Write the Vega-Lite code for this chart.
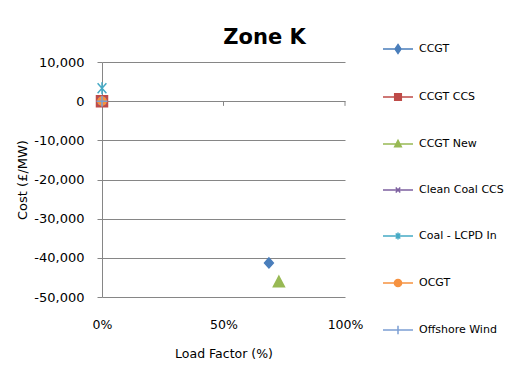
{
  "$schema": "https://vega.github.io/schema/vega-lite/v6.json",
  "autosize": "none",
  "width": 243,
  "height": 235,
  "padding": {"left": 102, "top": 62, "right": 176, "bottom": 72},
  "background": "white",
  "title": {"text": "Zone K", "font": "DejaVu Sans", "fontSize": 21, "fontWeight": "bold", "color": "black", "anchor": "middle", "frame": "group", "offset": -15, "dx": 41},
  "config": {"view": {"stroke": null}},
  "data": {"values": [
    {"series": "CCGT", "lf": 0.687, "cost": -41300},
    {"series": "CCGT CCS", "lf": 0, "cost": 0},
    {"series": "CCGT New", "lf": 0.728, "cost": -46100},
    {"series": "Clean Coal CCS", "lf": 0, "cost": 0},
    {"series": "Coal - LCPD In", "lf": 0, "cost": 3300},
    {"series": "OCGT", "lf": 0, "cost": 0},
    {"series": "Offshore Wind", "lf": 0, "cost": 0}
  ]},
  "layer": [
    {
      "mark": {"type": "point", "filled": true, "opacity": 1, "size": 121, "strokeWidth": 1.5, "clip": false},
      "encoding": {
        "x": {"field": "lf", "type": "quantitative", "scale": {"domain": [0, 1], "nice": false},
          "axis": {"title": "Load Factor (%)", "values": [0, 0.5, 1], "tickCount": 10, "format": ".0%", "grid": false, "domain": false, "ticks": false, "labelFlush": false, "labelOverlap": false,
            "labelFont": "DejaVu Sans", "labelFontSize": 12.5, "labelColor": "black", "labelPadding": 21,
            "titleFont": "DejaVu Sans", "titleFontSize": 12.5, "titleFontWeight": "normal", "titleColor": "black", "titlePadding": 17}},
        "y": {"field": "cost", "type": "quantitative", "scale": {"domain": [-50000, 10000], "nice": false, "zero": false},
          "axis": {"title": "Cost (£/MW)", "values": [-50000, -40000, -30000, -20000, -10000, 0, 10000], "tickCount": 20, "format": ",d", "labelExpr": "replace(datum.label, '−', '-')", "labelOverlap": false, "labelFlush": false,
            "grid": true, "gridColor": "#868686", "gridOpacity": 1, "domainColor": "#868686", "tickColor": "#868686", "tickSize": 5,
            "labelFont": "DejaVu Sans", "labelFontSize": 13, "labelColor": "black", "labelPadding": 13,
            "titleFont": "DejaVu Sans", "titleFontSize": 13, "titleFontWeight": "normal", "titleColor": "black", "titlePadding": 4}},
        "fill": {"field": "series", "type": "nominal", "legend": null,
          "scale": {"domain": ["CCGT", "CCGT CCS", "CCGT New", "Clean Coal CCS", "Coal - LCPD In", "OCGT", "Offshore Wind"],
            "range": ["#4A7EBB", "#BE4B48", "#98B954", "#7D60A0", "#46AAC5", "#F69240", "#7C9FD3"]}},
        "stroke": {"field": "series", "type": "nominal", "legend": null,
          "scale": {"domain": ["CCGT", "CCGT CCS", "CCGT New", "Clean Coal CCS", "Coal - LCPD In", "OCGT", "Offshore Wind"],
            "range": ["#4A7EBB", "#BE4B48", "#98B954", "#7D60A0", "#46AAC5", "#F69240", "#7C9FD3"]}},
        "shape": {"field": "series", "type": "nominal", "legend": null,
          "scale": {"domain": ["CCGT", "CCGT CCS", "CCGT New", "Clean Coal CCS", "Coal - LCPD In", "OCGT", "Offshore Wind"],
            "range": [
              "M0,-0.9L0.8,0L0,0.9L-0.8,0Z",
              "M-1,-1H1V1H-1Z",
              "M0,-1L1,0.9H-1Z",
              "M-0.7,-0.7L0.7,0.7M-0.7,0.7L0.7,-0.7",
              "M-0.8,-0.9L0.8,0.9M-0.8,0.9L0.8,-0.9M0,-1.1V1.1",
              "M0.75,0A0.75,0.75 0 1,1 -0.75,0A0.75,0.75 0 1,1 0.75,0Z",
              "M-1,0H1M0,-1V1"
            ]}}
      }
    },
    {
      "data": {"values": [{"tx": 0.5}, {"tx": 1}]},
      "mark": {"type": "rule", "color": "#868686", "strokeWidth": 1},
      "encoding": {
        "x": {"field": "tx", "type": "quantitative"},
        "y": {"datum": 0},
        "y2": {"datum": -1200}
      }
    },
    {
      "mark": {"type": "point", "filled": true, "opacity": 0, "size": 900},
      "encoding": {
        "x": {"field": "lf", "type": "quantitative"},
        "y": {"field": "cost", "type": "quantitative"},
        "fill": {"field": "series", "type": "nominal", "title": null,
          "scale": {"domain": ["CCGT", "CCGT CCS", "CCGT New", "Clean Coal CCS", "Coal - LCPD In", "OCGT", "Offshore Wind"],
            "range": ["#4A7EBB", "#BE4B48", "#98B954", "#7D60A0", "#46AAC5", "#F69240", "#7C9FD3"]},
          "legend": {"orient": "none", "legendX": 280, "legendY": -29, "padding": 0, "symbolSize": 900, "symbolOpacity": 1, "symbolStrokeWidth": 1.5,
            "rowPadding": 24, "labelOffset": 5, "labelFont": "DejaVu Sans", "labelFontSize": 11, "labelColor": "black", "labelLimit": 200}},
        "stroke": {"field": "series", "type": "nominal", "title": null,
          "scale": {"domain": ["CCGT", "CCGT CCS", "CCGT New", "Clean Coal CCS", "Coal - LCPD In", "OCGT", "Offshore Wind"],
            "range": ["#4A7EBB", "#BE4B48", "#98B954", "#7D60A0", "#46AAC5", "#F69240", "#7C9FD3"]},
          "legend": {"orient": "none", "legendX": 280, "legendY": -29, "padding": 0, "symbolSize": 900, "symbolOpacity": 1, "symbolStrokeWidth": 1.5,
            "rowPadding": 24, "labelOffset": 5, "labelFont": "DejaVu Sans", "labelFontSize": 11, "labelColor": "black", "labelLimit": 200}},
        "shape": {"field": "series", "type": "nominal", "title": null,
          "scale": {"domain": ["CCGT", "CCGT CCS", "CCGT New", "Clean Coal CCS", "Coal - LCPD In", "OCGT", "Offshore Wind"],
            "range": [
              "M-1,0H1M0,-0.3L0.2,0L0,0.3L-0.2,0Z",
              "M-1,0H1M-0.22,-0.22H0.22V0.22H-0.22Z",
              "M-1,0H1M0,-0.24L0.22,0.18H-0.22Z",
              "M-1,0H1M-0.15,-0.17L0.15,0.17M-0.15,0.17L0.15,-0.17",
              "M-1,0H1M-0.15,-0.17L0.15,0.17M-0.15,0.17L0.15,-0.17M0,-0.24V0.24",
              "M-1,0H1M0.24,0A0.24,0.24 0 1,1 -0.24,0A0.24,0.24 0 1,1 0.24,0Z",
              "M-1,0H1M0,-0.28V0.28"
            ]},
          "legend": {"orient": "none", "legendX": 280, "legendY": -29, "padding": 0, "symbolSize": 900, "symbolOpacity": 1, "symbolStrokeWidth": 1.5,
            "rowPadding": 24, "labelOffset": 5, "labelFont": "DejaVu Sans", "labelFontSize": 11, "labelColor": "black", "labelLimit": 200}}
      }
    }
  ],
  "resolve": {"scale": {"fill": "independent", "stroke": "independent", "shape": "independent"}}
}
